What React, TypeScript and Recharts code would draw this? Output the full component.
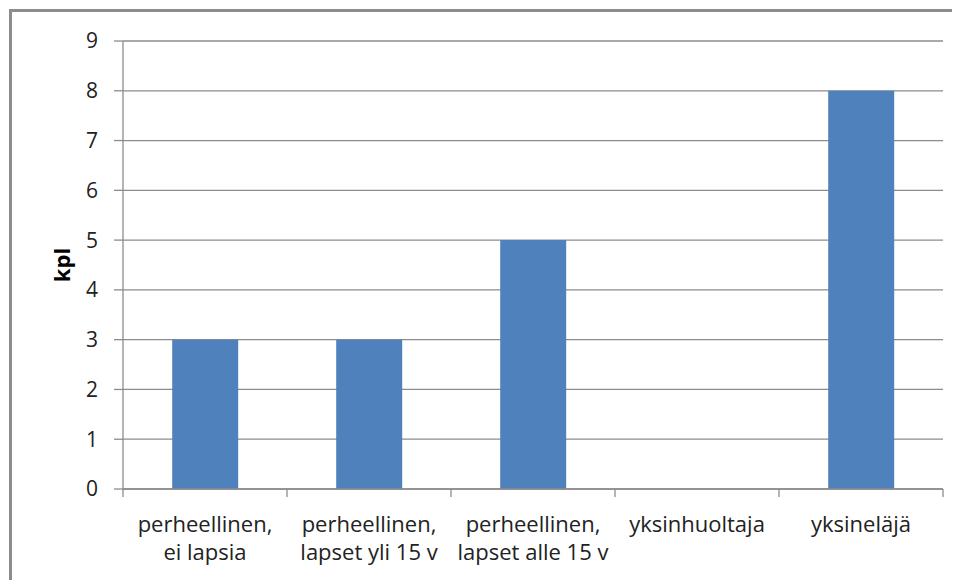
import React from 'react';
import { BarChart, Bar, XAxis, YAxis, CartesianGrid } from 'recharts';

const categories = [
  'perheellinen,\nei lapsia',
  'perheellinen,\nlapset yli 15 v',
  'perheellinen,\nlapset alle 15 v',
  'yksinhuoltaja',
  'yksineläjä',
];
const counts = [3, 3, 5, 0, 8];
const yTicks = [0, 1, 2, 3, 4, 5, 6, 7, 8, 9];

const FONT = '"Open Sans", "Noto Sans", sans-serif';
const GRAY = '#8c8c8c';
const BAND = 164; // plot width / category count, for the tick marks between categories

const data = categories.map((name, i) => ({ name, value: counts[i] }));

// multi-line category label, plus the tick marks on the category edges
function CategoryTick(props: any) {
  const { x, y, payload, index } = props;
  const lines = String(payload.value).split('\n');
  const last = index === categories.length - 1;
  return (
    <g>
      <line x1={x - BAND / 2} x2={x - BAND / 2} y1={y} y2={y + 8} stroke={GRAY} strokeWidth={1.3} />
      {last && <line x1={x + BAND / 2} x2={x + BAND / 2} y1={y} y2={y + 8} stroke={GRAY} strokeWidth={1.3} />}
      <text x={x} y={y} textAnchor="middle" fontFamily={FONT} fontSize={22} fill="#222">
        {lines.map((line, i) => (
          <tspan key={i} x={x} dy={i === 0 ? 43 : 28}>
            {line}
          </tspan>
        ))}
      </text>
    </g>
  );
}

export default function App() {
  return (
    <div
      style={{
        marginTop: 1,
        marginLeft: 1,
        borderTop: `3px solid ${GRAY}`,
        borderLeft: `3px solid ${GRAY}`,
        width: 948,
        height: 568,
      }}
    >
      <BarChart
        width={948}
        height={568}
        data={data}
        margin={{ top: 29, right: 17, bottom: 0, left: 0 }}
        barCategoryGap="30%"
      >
        <CartesianGrid horizontal vertical={false} stroke={GRAY} strokeWidth={1.3} />
        <XAxis
          dataKey="name"
          height={91}
          interval={0}
          tickSize={0}
          tickMargin={0}
          tickLine={false}
          axisLine={{ stroke: GRAY, strokeWidth: 1.3 }}
          tick={<CategoryTick />}
        />
        <YAxis
          width={111}
          domain={[0, 9]}
          ticks={yTicks}
          interval={0}
          tickSize={9}
          tickMargin={16}
          tick={{ fontFamily: FONT, fontSize: 21, fill: '#222' }}
          tickLine={{ stroke: GRAY, strokeWidth: 1.3 }}
          axisLine={{ stroke: GRAY, strokeWidth: 1.3 }}
          label={{
            value: 'kpl',
            angle: -90,
            position: 'insideLeft',
            offset: 50,
            style: { fontFamily: FONT, fontSize: 22, fontWeight: 'bold', fill: '#000', textAnchor: 'middle' },
          }}
        />
        <Bar dataKey="value" fill="#4F81BD" isAnimationActive={false} />
      </BarChart>
    </div>
  );
}
